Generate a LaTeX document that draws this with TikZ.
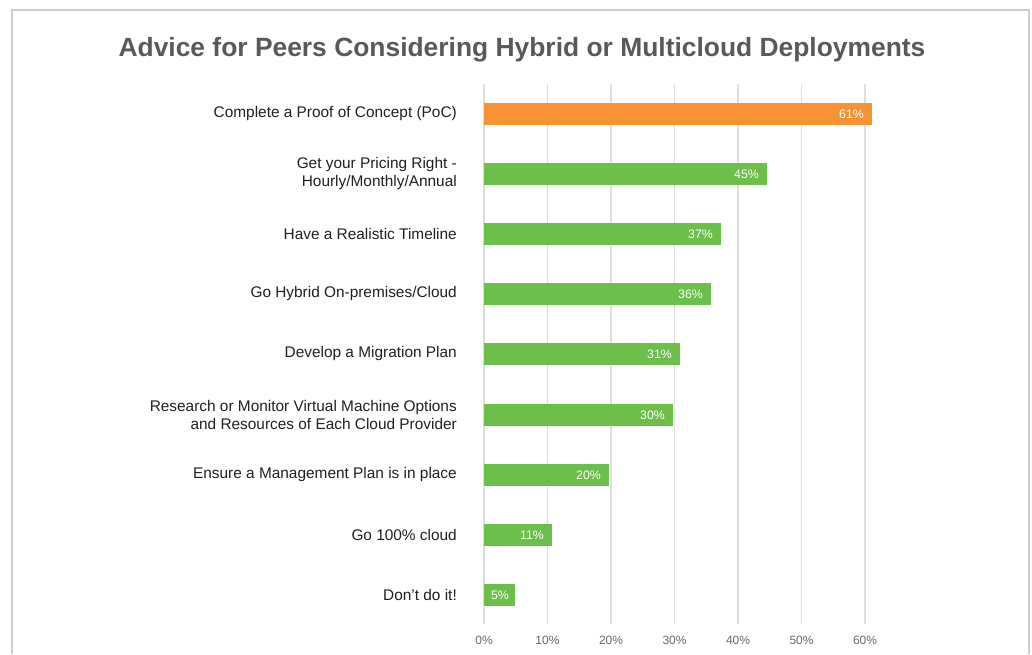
\documentclass[tikz,border=0pt]{standalone}
\usepackage{fontspec}
\setmainfont{Liberation Sans}
\usepackage{xcolor}
\definecolor{pocorange}{HTML}{F79232}
\definecolor{bargreen}{HTML}{6CBF4B}
\definecolor{gridgray}{HTML}{DEDEDE}
\definecolor{titlegray}{HTML}{595959}
\definecolor{framegray}{HTML}{CCCCCC}
\tikzset{
  barlabel/.style={anchor=east, align=right, font=\fontsize{15.4}{18}\selectfont, text=black!88, inner sep=0},
  barvalue/.style={anchor=east, font=\fontsize{12.3}{14}\selectfont, text=white, inner sep=0},
  ticklabel/.style={font=\fontsize{12}{14}\selectfont, text=black!60, inner sep=0},
  gridline/.style={draw=gridgray, line width=1.3},
}

\begin{document}
\begin{tikzpicture}[x=1pt,y=-1pt]
\useasboundingbox (0,0) rectangle (1032,654);
\draw[framegray, line width=2] (12,654) -- (12,10) -- (1029,10) -- (1029,654);
\node[font=\bfseries\fontsize{26.4}{30}\selectfont, text=titlegray] (title) at (522,50) {Advice for Peers Considering Hybrid or Multicloud Deployments};
% grid
\draw[gridline] (484,84) -- (484,624);
\draw[gridline] (547.5,84) -- (547.5,624);
\draw[gridline] (611,84) -- (611,624);
\draw[gridline] (674.5,84) -- (674.5,624);
\draw[gridline] (738,84) -- (738,624);
\draw[gridline] (801.5,84) -- (801.5,624);
\draw[gridline] (865,84) -- (865,624);
\node[ticklabel] (t0) at (484,640) {0\%};
\node[ticklabel] (t10) at (547.5,640) {10\%};
\node[ticklabel] (t20) at (611,640) {20\%};
\node[ticklabel] (t30) at (674.5,640) {30\%};
\node[ticklabel] (t40) at (738,640) {40\%};
\node[ticklabel] (t50) at (801.5,640) {50\%};
\node[ticklabel] (t60) at (865,640) {60\%};
% bars
\fill[pocorange] (484,103) rectangle (872,125);
\node[barvalue] (vpoc) at (864,114) {61\%};
\node[barlabel] (lpoc) at (457,114) {Complete a Proof of Concept (PoC)};
\fill[bargreen] (484,163) rectangle (767,185);
\node[barvalue] (vprice) at (759,174) {45\%};
\node[barlabel] (lprice) at (457,174) {Get your Pricing Right -\\Hourly/Monthly/Annual};
\fill[bargreen] (484,223) rectangle (721,245);
\node[barvalue] (vtime) at (713,234) {37\%};
\node[barlabel] (ltime) at (457,234) {Have a Realistic Timeline};
\fill[bargreen] (484,283) rectangle (711,305);
\node[barvalue] (vhybrid) at (703,294) {36\%};
\node[barlabel] (lhybrid) at (457,294) {Go Hybrid On-premises/Cloud};
\fill[bargreen] (484,343) rectangle (680,365);
\node[barvalue] (vmigr) at (672,354) {31\%};
\node[barlabel] (lmigr) at (457,354) {Develop a Migration Plan};
\fill[bargreen] (484,404) rectangle (673,426);
\node[barvalue] (vvm) at (665,415) {30\%};
\node[barlabel] (lvm) at (457,415) {Research or Monitor Virtual Machine Options\\and Resources of Each Cloud Provider};
\fill[bargreen] (484,464) rectangle (609,486);
\node[barvalue] (vmgmt) at (601,475) {20\%};
\node[barlabel] (lmgmt) at (457,475) {Ensure a Management Plan is in place};
\fill[bargreen] (484,524) rectangle (552,546);
\node[barvalue] (vcloud) at (544,535) {11\%};
\node[barlabel] (lcloud) at (457,535) {Go 100\% cloud};
\fill[bargreen] (484,584) rectangle (515,606);
\node[barvalue] (vdont) at (509,595) {5\%};
\node[barlabel] (ldont) at (457,595) {Don’t do it!};
\end{tikzpicture}
\end{document}
